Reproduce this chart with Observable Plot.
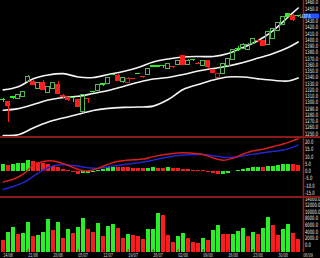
<!DOCTYPE html>
<html><head><meta charset="utf-8">
<script src="https://cdn.jsdelivr.net/npm/d3@7"></script>
<script src="https://cdn.jsdelivr.net/npm/@observablehq/plot@0.6"></script>
<style>
html,body{margin:0;padding:0;background:#000;}
#chart{width:320px;height:258px;background:#000;overflow:hidden;}
.sep{height:2px;width:320px;background:#8b1a1a;}
svg{display:block;}
</style></head><body><div id="chart"></div>
<script>
// ---- candles (one per trading day) ----
const opens  = [1304.5,1300.5,1308,1305.7,1308,1333.4,1333.4,1321.7,1330.7,1315,1321.7,1328,1309.5,1306.7,1307,1304,1285,1306,1316.5,1319,1329,1329.7,1344.5,1343,1332,1331,1337.3,1346,1340.5,1344,1357.5,1357.8,1358,1353.7,1356.5,1360.6,1373.5,1360.6,1367.5,1362,1358,1365.5,1352,1339.3,1345.7,1359,1368,1386,1385,1384,1394,1399,1398,1392.7,1401.8,1414,1424.7,1440.8,1439,1437.8];
const highs  = [1305.5,1301.5,1309,1313,1318,1342.5,1335,1332,1335,1325,1332,1333,1312,1308,1307.5,1305,1312,1306.5,1317,1329,1331,1339.5,1345,1344,1339.5,1340,1338.7,1347,1341,1354.5,1358,1358.5,1359,1362.5,1357,1367,1375,1368,1369,1363.5,1366.5,1366,1353,1346.5,1362.5,1370.5,1385,1389.5,1395,1394,1402.5,1400.5,1399,1413,1418.5,1428,1437.5,1442,1440,1439];
const lows   = [1300,1267,1304,1304.5,1307,1332,1327,1320.5,1318.5,1313.5,1320.5,1312.5,1305,1302,1300,1291,1282,1298,1314,1318,1326,1329,1343,1334,1331,1330,1336,1344.5,1339,1343,1356,1356.5,1355,1353,1355,1360,1359.5,1360,1365.5,1360,1357.5,1355,1346,1338.5,1345,1358.5,1367,1382,1384,1383,1393,1397,1390,1392,1401,1413,1424,1436,1430,1436];
const closes = [1304,1294,1306.5,1312,1317,1341.4,1328.6,1331,1320,1324,1331,1313.7,1309,1303,1306.5,1292,1311,1305.5,1316,1328,1328.5,1338.5,1344,1335,1338.7,1337.5,1337,1345.5,1340,1353.7,1357,1357.3,1357.5,1361.7,1356,1366,1360.6,1367,1367.2,1361.7,1366,1356,1346.7,1345.7,1361.7,1369.8,1384,1385.9,1392,1392.5,1401.5,1398.5,1391,1412.4,1417.8,1427,1436.4,1436.8,1432.3,1437.6];
const volumes = [1300,3820,5240,3030,3330,6670,2510,2820,3640,7670,4420,6850,2000,4730,3510,5150,7880,4640,3640,6360,2510,5450,6060,4940,2000,3030,2730,2510,1520,4550,4730,9390,9000,2820,700,2510,3330,1820,790,390,1910,1300,4240,5760,3030,3000,3060,4120,4850,2420,3640,3030,4850,8360,5850,2730,4640,6240,3510,1520];

// ---- Bollinger bands, read at sample days ----
const bandIdx    = [0,3,6,9,12,15,18,21,24,27,30,33,36,39,42,45,48,51,54,57,59];
const upperBand  = [1320,1325,1337.7,1343.8,1346,1340.6,1339.8,1344.6,1349.4,1356,1364.6,1369.5,1372.7,1373.5,1373.5,1378.3,1388,1399,1415,1436.8,1451.2];
const middleBand = [1287.4,1290,1296.5,1303.7,1307.8,1309.7,1314.2,1319,1325.4,1332.1,1337.4,1339.8,1344.6,1350.2,1354.2,1358.2,1363.8,1371,1378.3,1387.9,1396.7];
const lowerBand  = [1246.9,1248,1258.9,1268.5,1275,1280.8,1287,1290.4,1292,1292.5,1294,1304.5,1320.6,1328.6,1335.8,1340.6,1340.6,1337.7,1335.3,1334.2,1339];

// ---- MACD, read at sample days ----
const macdIdx    = [0,2,4,6,8,10,12,14,16,18,20,22,24,26,28,30,32,34,36,38,40,42,44,46,48,50,52,54,56,58,59];
const macdLine   = [-7.3,-5.5,-2.0,4.0,6.6,7.0,5.2,2.5,0.3,0.8,3.4,6.0,7.2,7.8,8.3,10.0,11.2,12.2,12.6,12.3,11.5,9.0,7.5,9.0,11.8,14.0,15.1,16.9,18.6,21.0,22.2];
const signalLine = [-12.5,-10.5,-7.8,-3.5,0.8,3.8,4.5,4.0,2.9,2.0,2.4,3.5,4.5,5.3,6.3,7.6,9.0,10.3,11.1,11.5,11.4,10.6,9.6,9.6,10.6,11.7,12.6,13.6,14.5,16.5,18.0];
const histogram  = [4.4,3.9,4.6,5.0,5.5,7.3,6.8,6.2,5.5,4.4,3.2,2.3,1.4,0.5,-0.7,-2.5,-1.8,-1.4,-0.9,0.2,1.0,2.3,2.7,2.6,2.5,2.3,2.2,2.1,1.8,2.2,2.3,2.1,1.95,2.7,2.0,1.6,1.4,1.1,0.7,0.5,0.2,-0.9,-1.4,-2.3,-2.0,-1.4,-0.4,0.5,1.2,1.6,2.7,2.75,2.5,3.2,3.3,3.6,4.3,4.8,4.3,4.1];

// ---- tick labels ----
const priceTicks = [1250,1260,1270,1280,1290,1300,1310,1320,1330,1340,1350,1360,1370,1380,1390,1400,1410,1420,1430,1440,1450,1460];
const macdTicks = [-15,-10,-5,0,5,10,15,20];
const volTicks = [0,2000,4000,6000,8000,10000,12000,14000];
const dateIdx = [0,5,10,15,20,25,30,35,40,45,50,55,60];
const dateLabels = ["14/06","21/06","28/06","05/07","12/07","19/07","26/07","02/08","09/08","16/08","23/08","30/08","06/09"];

// ---- layout / style ----
const xDomain = [-0.54, 60.06];
const priceDomain = [1245.3, 1463.2];
const macdDomain = [-17.3, 22.4];
const volDomain = [-2330, 14100];
const GREEN_FILL = "#27f027", GREEN_HOLLOW = "#55b455", RED_FILL = "#ff1c1c", RED_HOLLOW = "#b82424";
const AXIS_RED = "#a81c1c";
const font = "'DejaVu Sans',sans-serif";
const baseStyle = {background: "black", color: "#ececec", fontSize: "6px", fontFamily: font};

const candles = opens.map((o, i) => {
  const c = closes[i];
  const up = i === 0 || c >= closes[i - 1];
  const hollow = c > o;
  const col = hollow ? (up ? GREEN_HOLLOW : RED_HOLLOW) : (up ? GREEN_FILL : RED_FILL);
  return {i, open: o, close: c, high: highs[i], low: lows[i],
    top: Math.max(o, c), bot: Math.min(o, c), stroke: col, fill: hollow ? "none" : col};
});
const bands = bandIdx.map((i, k) => ({i, upper: upperBand[k], middle: middleBand[k], lower: lowerBand[k]}));
const macdRows = macdIdx.map((i, k) => ({i, macd: macdLine[k], signal: signalLine[k]}));
const histRows = histogram.map((h, i) => ({i, h, col: (i === 0 || h >= histogram[i - 1]) ? GREEN_FILL : RED_FILL}));
const volRows = volumes.map((v, i) => ({i, v, col: (i > 0 && v > volumes[i - 1]) ? GREEN_FILL : RED_FILL}));
const dateRows = dateIdx.map((i, k) => ({i, label: dateLabels[k]}));
const last = closes[closes.length - 1];

const common = {width: 320, marginLeft: 0, marginRight: 17, marginTop: 0};
const fmt1 = d => d.toFixed(1);

const price = Plot.plot({
  ...common, height: 136, marginBottom: 0, style: baseStyle,
  x: {domain: xDomain, axis: null},
  y: {domain: priceDomain, axis: "right", ticks: priceTicks.filter(t => Math.abs(t - last) > 5), tickFormat: fmt1, tickSize: 0, tickPadding: 1.5, label: null},
  color: {type: "identity"},
  marks: [
    Plot.line(bands, {x: "i", y: "upper", stroke: "#f4f4f4", strokeWidth: 1.6, curve: "catmull-rom"}),
    Plot.line(bands, {x: "i", y: "middle", stroke: "#f4f4f4", strokeWidth: 1.6, curve: "catmull-rom"}),
    Plot.line(bands, {x: "i", y: "lower", stroke: "#f4f4f4", strokeWidth: 1.6, curve: "catmull-rom"}),
    Plot.ruleX(candles, {x: "i", y1: "high", y2: "top", stroke: "stroke", shapeRendering: "crispEdges"}),
    Plot.ruleX(candles, {x: "i", y1: "bot", y2: "low", stroke: "stroke", shapeRendering: "crispEdges"}),
    Plot.rect(candles, {x1: d => d.i - 0.4, x2: d => d.i + 0.4, y1: "open", y2: "close", fill: "fill", stroke: "stroke", shapeRendering: "crispEdges"}),
    Plot.ruleX([xDomain[1]], {stroke: AXIS_RED, strokeWidth: 1.5})
  ]
});

const macd = Plot.plot({
  ...common, height: 58, marginBottom: 0, style: baseStyle,
  x: {domain: xDomain, axis: null},
  y: {domain: macdDomain, axis: "right", ticks: macdTicks, tickFormat: fmt1, tickSize: 0, tickPadding: 1.5, label: null},
  color: {type: "identity"},
  marks: [
    Plot.rect(histRows, {x1: d => d.i - 0.4, x2: d => d.i + 0.4, y1: 0, y2: "h", fill: "col", shapeRendering: "crispEdges"}),
    Plot.line(macdRows, {x: "i", y: "signal", stroke: "#2424d0", strokeWidth: 1.5, curve: "catmull-rom"}),
    Plot.line(macdRows, {x: "i", y: "macd", stroke: "#dc1e1e", strokeWidth: 1.5, curve: "catmull-rom"}),
    Plot.ruleX([xDomain[1]], {stroke: AXIS_RED, strokeWidth: 1.5})
  ]
});

const vol = Plot.plot({
  ...common, height: 60, marginBottom: 6, style: baseStyle,
  x: {domain: xDomain, axis: null},
  y: {domain: volDomain, axis: "right", ticks: volTicks, tickFormat: fmt1, tickSize: 0, tickPadding: 1.5, label: null},
  color: {type: "identity"},
  marks: [
    Plot.rect(volRows, {x1: d => d.i - 0.4, x2: d => d.i + 0.4, y1: volDomain[0], y2: "v", fill: "col", shapeRendering: "crispEdges"}),
    Plot.tickX(dateIdx, {x: d => d, stroke: AXIS_RED, insetTop: 51}),
    Plot.text(dateRows, {x: "i", text: "label", frameAnchor: "bottom", textAnchor: "start", lineAnchor: "top", dy: 1, fill: "#d8d8d8", fontSize: 5.5}),
    Plot.ruleX([xDomain[1]], {stroke: AXIS_RED, strokeWidth: 1.5})
  ]
});

const root = document.getElementById("chart");
root.appendChild(price);
const s1 = document.createElement("div"); s1.className = "sep"; root.appendChild(s1);
root.appendChild(macd);
const s2 = document.createElement("div"); s2.className = "sep"; root.appendChild(s2);
root.appendChild(vol);

// current-price marker on the right axis, placed with the plot's own y scale
const yPix = price.scale("y").apply(last);
const g = d3.select(price).append("g");
g.append("rect").attr("x", 304).attr("y", yPix - 2.5).attr("width", 15).attr("height", 5).attr("fill", "#1e58ff");
g.append("text").attr("transform", `translate(305,${yPix})`).attr("dy", "0.35em").attr("fill", "white")
  .style("font-size", "5px").text(last.toFixed(1));

// condense the small labels horizontally (scale about each label's own anchor),
// like the original's narrow bitmap font
function condense(svg) {
  d3.select(svg).selectAll("text").each(function () {
    if (!this.textContent) return;
    const t = this.getAttribute("transform") || "";
    this.setAttribute("transform", (t + " scale(0.62,1)").trim());
  });
}
[price, macd, vol].forEach(condense);
</script></body></html>
